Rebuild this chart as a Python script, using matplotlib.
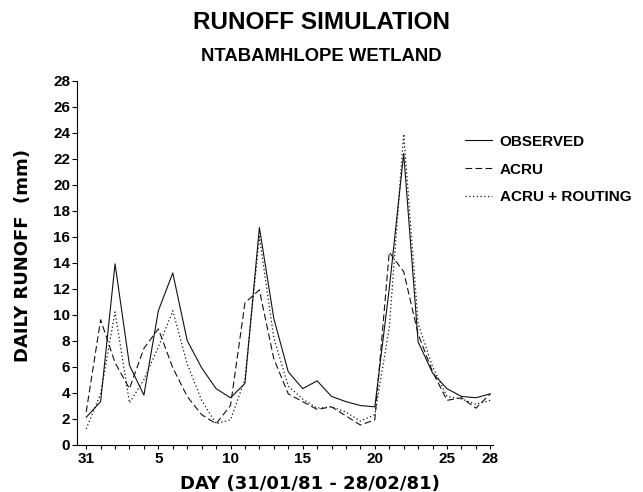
import numpy as np
import matplotlib
matplotlib.use('Agg')
import matplotlib.pyplot as plt

plt.rcParams['font.family'] = ['Liberation Sans', 'DejaVu Sans']

# day index 0 = 31 Jan, 1..28 = Feb
days = np.arange(0, 29)
observed = [2.1, 3.3, 13.9, 6.1, 3.8, 10.3, 13.2, 8.0, 5.9, 4.3, 3.6, 4.7, 16.7, 9.7,
            5.6, 4.3, 4.9, 3.7, 3.3, 3.0, 2.9, 12.0, 22.4, 7.9, 5.5, 4.3, 3.7, 3.6, 3.9]
acru = [2.5, 9.6, 6.3, 4.3, 7.4, 8.9, 5.9, 3.7, 2.3, 1.6, 3.0, 10.9, 11.9, 6.6,
        3.9, 3.3, 2.7, 2.9, 2.2, 1.5, 1.9, 14.8, 13.3, 8.5, 5.6, 3.4, 3.6, 2.8, 3.9]
routing = [1.2, 3.9, 10.2, 3.2, 5.0, 7.5, 10.3, 6.2, 3.4, 1.6, 1.9, 5.0, 16.0, 8.2,
           4.5, 3.5, 2.8, 2.9, 2.5, 1.8, 2.3, 9.0, 23.9, 9.3, 6.0, 3.7, 3.5, 3.1, 3.4]

xtick_pos = [0, 5, 10, 15, 20, 25, 28]
xtick_labels = ['31', '5', '10', '15', '20', '25', '28']

fig = plt.figure(figsize=(6.43, 4.92), dpi=100)
ax = fig.add_axes([0.119, 0.0965, 0.648, 0.7395])

ax.plot(days, observed, color='#111111', lw=0.8, ls='-', label='OBSERVED')
ax.plot(days, acru, color='#111111', lw=0.8, ls=(0, (6, 3)), label='ACRU')
ax.plot(days, routing, color='#111111', lw=0.9, ls=(0, (1, 2)), label='ACRU + ROUTING')

ax.set_xlim(-0.67, 28.2)
ax.set_ylim(0, 28)
ax.set_yticks(np.arange(0, 29, 2))
ax.set_xticks(np.arange(0, 29), minor=True)
ax.set_xticks(xtick_pos)
ax.set_xticklabels(xtick_labels)
ax.tick_params(axis='y', direction='out', length=3.6, width=0.8, pad=1)
ax.tick_params(axis='x', which='both', direction='out', length=3, width=0.8, pad=2.5)
for lab in ax.get_xticklabels() + ax.get_yticklabels():
    lab.set_fontsize(11)
    lab.set_fontweight('bold')

ax.spines['top'].set_visible(False)
ax.spines['right'].set_visible(False)

ax.set_xlabel('DAY (31/01/81 - 28/02/81)', fontsize=13, fontweight='bold',
              family='DejaVu Sans')
ax.xaxis.set_label_coords(0.56, -0.085)
ax.set_ylabel('DAILY RUNOFF  (mm)', fontsize=13, fontweight='bold', family='DejaVu Sans')
ax.yaxis.set_label_coords(-0.107, 0.52)

fig.text(0.5, 0.954, 'RUNOFF SIMULATION', ha='center', va='center', fontsize=17.5,
         fontweight='bold')
fig.text(0.5, 0.886, 'NTABAMHLOPE WETLAND', ha='center', va='center', fontsize=13.3,
         fontweight='bold')

leg = ax.legend(loc='upper left', bbox_to_anchor=(0.723, 0.726), bbox_transform=fig.transFigure,
                frameon=False, borderpad=0, borderaxespad=0, handlelength=1.76,
                handletextpad=0.52, labelspacing=0.9, prop={'size': 11, 'weight': 'bold'})

fig.savefig('out.png', dpi=100)
